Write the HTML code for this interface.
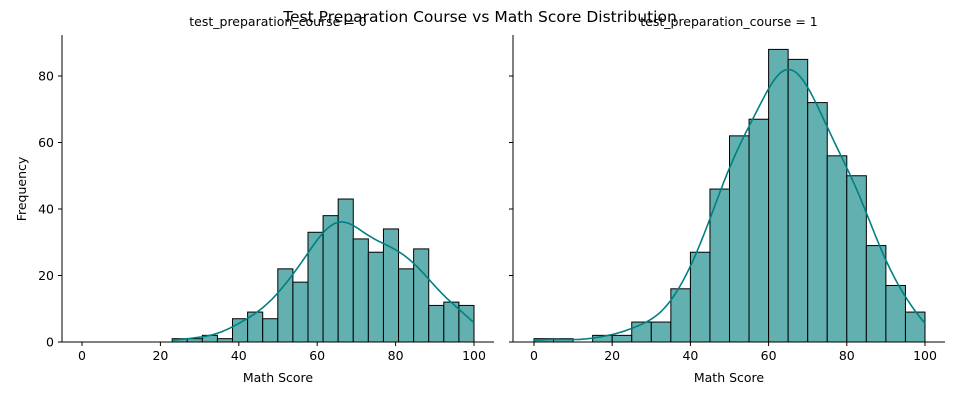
<!DOCTYPE html>
<html><head><meta charset="utf-8"><style>
body{margin:0;background:#fff;font-family:"Liberation Sans","DejaVu Sans",sans-serif}
svg text{font-family:"DejaVu Sans","Liberation Sans",sans-serif;font-size:12.5px;fill:#000}
</style></head><body>
<svg id="c" width="960" height="400"></svg>
<script>
const leftEdgesStart = 23, leftEdgesEnd = 100;
const leftCounts = [1,1,2,1,7,9,7,22,18,33,38,43,31,27,34,22,28,11,12,11];
const rightEdgesStart = 0, rightEdgesEnd = 100;
const rightCounts = [1,1,0,2,2,6,6,16,27,46,62,67,88,85,72,56,50,29,17,9];
const xTicks = [0,20,40,60,80,100];
const yTicks = [0,20,40,60,80];
const titles = ["test_preparation_course = 0","test_preparation_course = 1"];
const NS="http://www.w3.org/2000/svg", svg=document.getElementById('c');
function mk(t,a,p){const e=document.createElementNS(NS,t);for(const k in a)e.setAttribute(k,a[k]);(p||svg).appendChild(e);return e;}
const y0=342, yTop=35, ymax=(342-35)/3.325;
const ys=v=>y0-(v/ymax)*(y0-yTop);
const panels=[{l:62,r:494,x0:82,x1:474,s:leftEdgesStart,e:leftEdgesEnd,c:leftCounts,t:titles[0],labels:true},
{l:513,r:945,x0:534,x1:925,s:rightEdgesStart,e:rightEdgesEnd,c:rightCounts,t:titles[1],labels:false}];
const tt=mk('text',{x:480,y:22,'text-anchor':'middle',style:'font-size:15.5px'});tt.textContent="Test Preparation Course vs Math Score Distribution";


panels.forEach((p,pi)=>{
 const xs=v=>p.x0+(v/100)*(p.x1-p.x0);
 const g=mk('g',{});
 
 
 const n=p.c.length,w=(p.e-p.s)/n;
 p.c.forEach((v,i)=>{ if(v<=0)return;
  const r=mk('rect',{x:xs(p.s+i*w),y:ys(v),width:xs(p.s+(i+1)*w)-xs(p.s+i*w),height:y0-ys(v),fill:'#62b0b0',stroke:'#000','stroke-width':1},g);
  
  
 });
 let N=0,m=0;p.c.forEach((v,i)=>{N+=v;m+=v*(p.s+(i+.5)*w);});m/=N;
 let vv=0;p.c.forEach((v,i)=>{const c=p.s+(i+.5)*w;vv+=v*(c-m)*(c-m);});const sd=Math.sqrt(vv/(N-1));
 const h=sd*Math.pow(N,-0.2)*1.1;
 let d='';
 for(let k=0;k<=200;k++){const x=p.s+(p.e-p.s)*k/200;let den=0;
  p.c.forEach((v,i)=>{const c=p.s+(i+.5)*w;den+=v*Math.exp(-0.5*((x-c)/h)**2);});
  den=den/(h*Math.sqrt(2*Math.PI))*w;
  d+=(k?'L':'M')+xs(x).toFixed(1)+','+ys(den).toFixed(1);}
 const ln=mk('path',{d:d,fill:'none',stroke:'#008080','stroke-width':1.6},g);
 
 
 mk('line',{x1:p.l,y1:yTop,x2:p.l,y2:y0,stroke:'#000','stroke-width':1},g);
 mk('line',{x1:p.l,y1:y0,x2:p.r,y2:y0,stroke:'#000','stroke-width':1},g);
 xTicks.forEach(t=>{mk('line',{x1:xs(t),y1:y0,x2:xs(t),y2:y0+4,stroke:'#000'},g);
  const tx=mk('text',{x:xs(t),y:y0+18,'text-anchor':'middle'},g);tx.textContent=t;
  
  });
 yTicks.forEach(t=>{mk('line',{x1:p.l-4,y1:ys(t),x2:p.l,y2:ys(t),stroke:'#000'},g);
  if(p.labels){const tx=mk('text',{x:p.l-8,y:ys(t)+4.5,'text-anchor':'end'},g);tx.textContent=t;
  
  }});
 const xl=mk('text',{x:(p.l+p.r)/2,y:382,'text-anchor':'middle'},g);xl.textContent="Math Score";
 
 
 const st=mk('text',{x:(p.l+p.r)/2,y:26,'text-anchor':'middle'},g);st.textContent=p.t;
 
 
});
const yl=mk('text',{x:26,y:189,'text-anchor':'middle',transform:'rotate(-90 26 189)'});yl.textContent="Frequency";


</script>
</body></html>
